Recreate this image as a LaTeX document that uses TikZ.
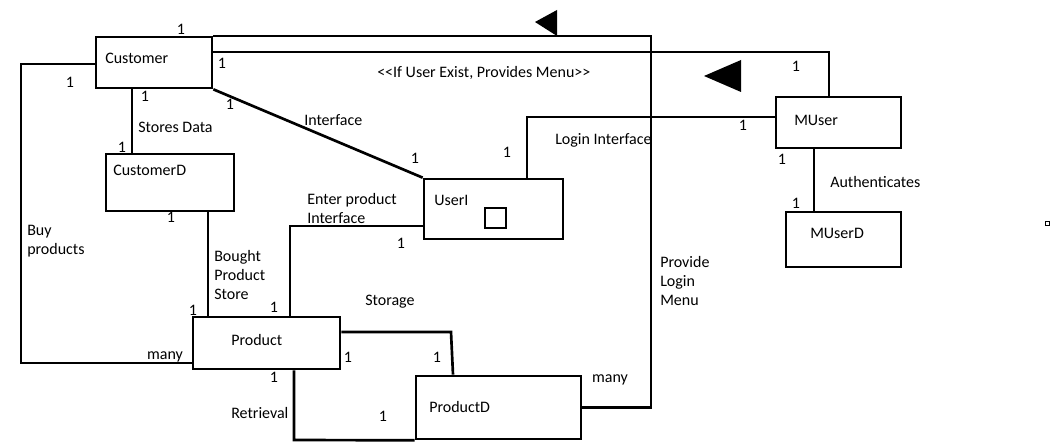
\documentclass[tikz,border=0pt]{standalone}
\usepackage{fontspec}
\setmainfont{Carlito}
\usetikzlibrary{fit}
\begin{document}
\begin{tikzpicture}[x=0.75pt,y=-0.75pt,
  box/.style={draw=black,line width=2pt,inner sep=0pt},
  conn/.style={draw=black,line width=2pt,line join=miter},
  lbl/.style={inner sep=0pt,anchor=west,font=\fontsize{12}{14.25}\selectfont,align=left},
  num/.style={inner sep=0pt,font=\fontsize{12}{14.25}\selectfont}]
\useasboundingbox (0,0) rectangle (1051,448);
% boxes
\node[box,fit={(96,37) (212,88)}] (cust) {};
\node[box,fit={(106,154) (234,211)}] (custD) {};
\node[box,fit={(424,179) (563,239)}] (useri) {};
\node[box,fit={(776,97) (901,148)}] (muser) {};
\node[box,fit={(786,212) (901,267)}] (muserD) {};
\node[box,fit={(193,317) (340,369)}] (prod) {};
\node[box,fit={(416,376) (581,439)}] (prodD) {};
\node[draw=black,line width=0.8pt,inner sep=0pt,fit={(485,208) (506,228)}] (sq) {};
\node[draw=black,line width=0.5pt,inner sep=0pt,fit={(1045,221) (1049,225)}] (tiny) {};
% box titles
\node[lbl] (custT) at (105,58) {Customer};
\node[lbl] (custDT) at (113,170) {CustomerD};
\node[lbl] (useriT) at (434,200) {UserI};
\node[lbl] (muserT) at (794,120) {MUser};
\node[lbl] (muserDT) at (810,233) {MUserD};
\node[lbl] (prodT) at (231,340) {Product};
\node[lbl] (prodDT) at (429,407) {ProductD};
% coordinates
\coordinate (tr) at (651,36);
\coordinate (a2) at (829,52);
\coordinate (a4) at (132,120);
\coordinate (b1) at (21,64);
\coordinate (b2) at (21,363);
\coordinate (c6) at (208,260);
\coordinate (d1) at (290,226);
\coordinate (e1) at (451,332);
\coordinate (e2) at (453,360);
\coordinate (f1) at (294,440);
\coordinate (g1) at (527,117);
\coordinate (h1) at (814,180);
% connectors
\draw[conn] (cust.east |- tr) -- (tr) |- (prodD.east);
\draw[conn] (cust.east |- a2) -- (a2) -- (muser.north -| a2);
\draw[conn] (cust.south east) -- (useri.north west);
\draw[conn] (cust.south -| a4) -- (custD.north -| a4);
\draw[conn] (cust.west |- b1) -- (b1) -- (b2) -- (prod.west |- b2);
\draw[conn] (custD.south -| c6) -- (prod.north -| c6);
\draw[conn] (useri.west |- d1) -- (d1) -- (prod.north -| d1);
\draw[conn] (prod.east |- e1) -- (e1) -- (prodD.north -| e2);
\draw[conn] (prod.south -| f1) -- (f1) -- (prodD.south west);
\draw[conn] (useri.north -| g1) -- (g1) -- (muser.west |- g1);
\draw[conn] (muser.south -| h1) -- (muserD.north -| h1);
% triangles
\fill[black] (535,22) -- (557,10) -- (557,36) -- cycle;
\fill[black] (704,76) -- (741,60) -- (741,92) -- cycle;
% connector labels
\node[lbl] (l1) at (138,127) {Stores Data};
\node[lbl] (l2) at (304,120) {Interface};
\node[lbl] (l3) at (377,73) {<{}<If User Exist, Provides Menu>{}>};
\node[lbl] (l4) at (555,140) {Login Interface};
\node[lbl] (l5) at (830,182) {Authenticates};
\node[lbl] (l6) at (307,208.5) {Enter product\\Interface};
\node[lbl] (l7) at (27,241.5) {Buy\\products};
\node[lbl] (l8) at (214,275.5) {Bought\\Product\\Store};
\node[lbl] (l9) at (365,302) {Storage};
\node[lbl] (l10) at (231,413) {Retrieval};
\node[lbl] (l11) at (660,281) {Provide\\Login\\Menu};
% multiplicities
\node[num] (n1) at (181,29) {1};
\node[num] (n2) at (222,63) {1};
\node[num] (n3) at (70,82) {1};
\node[num] (n4) at (145,96) {1};
\node[num] (n5) at (230,104) {1};
\node[num] (n6) at (122,147) {1};
\node[num] (n7) at (415,158) {1};
\node[num] (n8) at (507,152) {1};
\node[num] (n9) at (171,217) {1};
\node[num] (n10) at (401,243) {1};
\node[num] (n11) at (193,310) {1};
\node[num] (n12) at (274,307) {1};
\node[num] (n13) at (348,357) {1};
\node[num] (n14) at (437,357) {1};
\node[num] (n15) at (274,377) {1};
\node[num] (n16) at (383,416) {1};
\node[num] (n17) at (796,66) {1};
\node[num] (n18) at (743,125) {1};
\node[num] (n19) at (782,159) {1};
\node[num] (n20) at (796,203) {1};
\node[num] (m1) at (165,357) {many};
\node[num] (m2) at (610,380) {many};
\end{tikzpicture}
\end{document}
